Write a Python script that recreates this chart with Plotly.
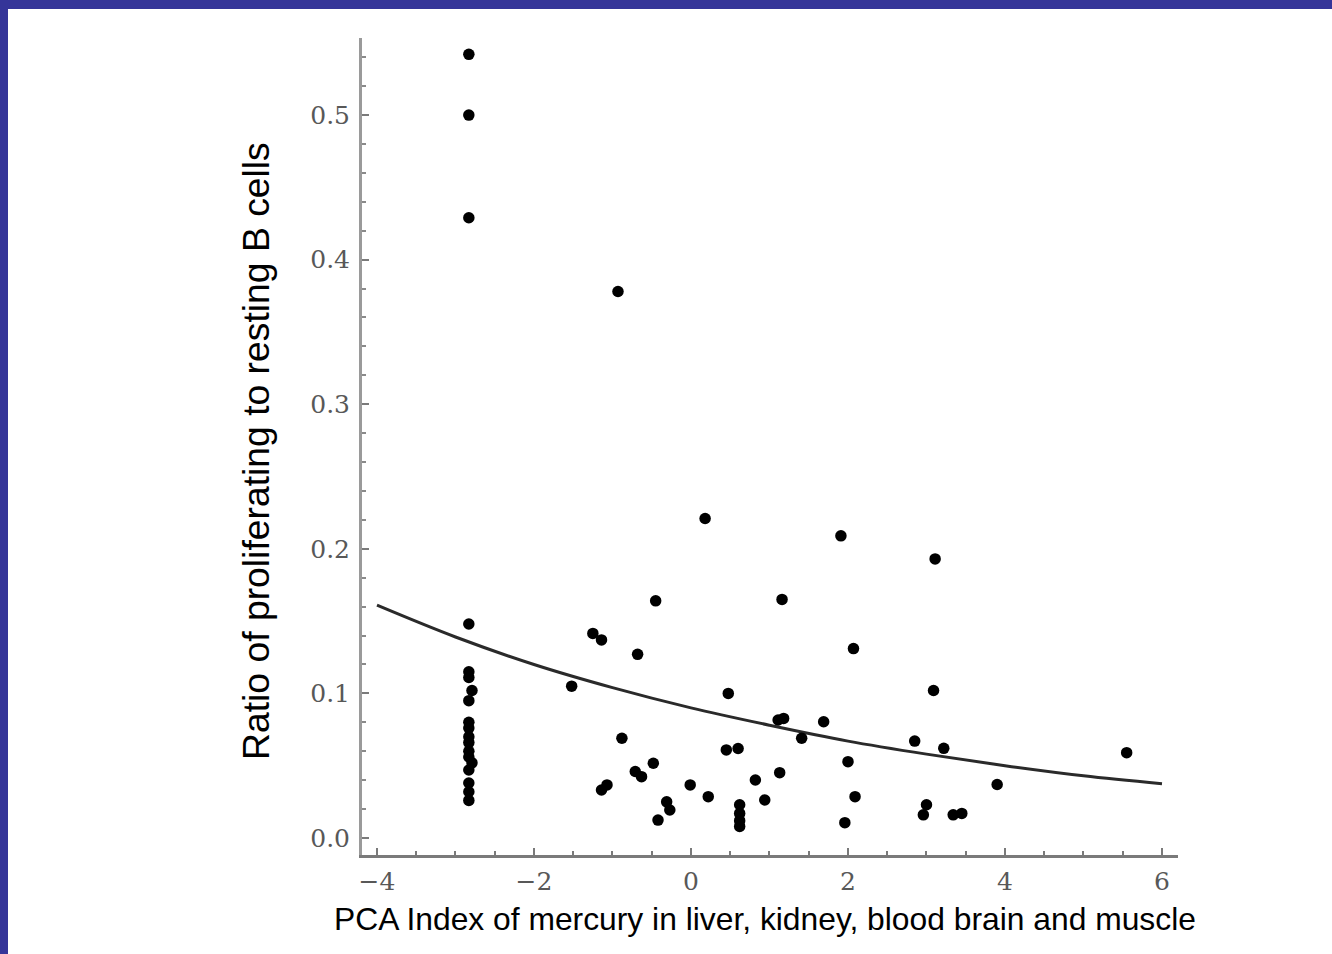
import plotly.graph_objects as go

# Scatter data: PCA mercury index vs. proliferating/resting B-cell ratio
pca_index = [
    -2.83, -2.83, -2.83, -2.83, -2.83, -2.83, -2.79, -2.83, -2.83, -2.83,
    -2.83, -2.83, -2.83, -2.83, -2.79, -2.83, -2.83, -2.83, -2.83,
    -1.25, -1.14, -0.68, -1.52, -0.88, -0.48, -0.71, -0.63, -1.07, -1.14,
    -0.01, -0.31, -0.27, -0.42,
    0.475, 1.11, 1.18, 1.69, 1.41, 0.45, 0.60, 2.00, 1.13, 0.82,
    0.22, 0.94, 2.09, 0.62, 0.62, 0.62, 0.62, 1.96,
    1.91, 3.11, 2.07, 3.09, 2.85, 3.22, 5.55, 3.90, 3.00, 2.96, 3.34, 3.45,
    -0.93, 0.18, -0.45, 1.16,
]
b_cell_ratio = [
    0.542, 0.500, 0.429, 0.148, 0.115, 0.111, 0.102, 0.095, 0.080, 0.076,
    0.070, 0.066, 0.060, 0.056, 0.052, 0.047, 0.038, 0.032, 0.026,
    0.1415, 0.137, 0.127, 0.105, 0.069, 0.0517, 0.046, 0.0424, 0.0367, 0.0332,
    0.0367, 0.025, 0.0194, 0.0124,
    0.100, 0.0816, 0.0827, 0.0804, 0.069, 0.0609, 0.0619, 0.0528, 0.0452, 0.0401,
    0.0286, 0.0263, 0.0286, 0.023, 0.017, 0.012, 0.008, 0.0106,
    0.209, 0.193, 0.131, 0.102, 0.067, 0.062, 0.059, 0.037, 0.023, 0.016, 0.016, 0.017,
    0.378, 0.221, 0.164, 0.165,
]

# Fitted trend line
fit_x = [-4, -3, -2, -1, 0, 1, 2, 3, 4, 5, 6]
fit_y = [0.161, 0.139, 0.120, 0.104, 0.090, 0.078, 0.067, 0.058, 0.050, 0.043, 0.0375]

x_title = "PCA Index of mercury in liver, kidney, blood brain and muscle"
y_title = "Ratio of proliferating to resting B cells"

W, H = 1332, 954
L, R, T, B = 362, 154, 38, 99
pw, ph = W - L - R, H - T - B


def px_x(p):
    return (p - L) / pw


def px_y(p):
    return (H - B - p) / ph


fig = go.Figure()
fig.add_trace(go.Scatter(
    x=fit_x, y=fit_y, mode="lines", line=dict(color="#2a2a2a", width=3, shape="spline"),
    hoverinfo="skip", showlegend=False,
))
fig.add_trace(go.Scatter(
    x=pca_index, y=b_cell_ratio, mode="markers",
    marker=dict(color="black", size=11.5, line=dict(width=0)), showlegend=False,
))

tick_font = dict(family="DejaVu Serif", size=25, color="#585858")

fig.update_xaxes(
    range=[-4.191, 6.204], showgrid=False, zeroline=False,
    showline=True, linecolor="#7a7a7a", linewidth=3,
    tickmode="linear", tick0=0, dtick=2,
    ticks="inside", ticklen=7, tickwidth=2, tickcolor="#7a7a7a",
    minor=dict(dtick=0.5, ticks="inside", ticklen=4, tickwidth=2, tickcolor="#7a7a7a"),
    tickfont=tick_font, ticklabelstandoff=2,
)
fig.update_yaxes(
    range=[-0.01176, 0.5533], showgrid=False, zeroline=False,
    showline=True, linecolor="#9a9a9a", linewidth=3,
    tickmode="linear", tick0=0, dtick=0.1, tickformat=".1f",
    ticks="inside", ticklen=7, tickwidth=2, tickcolor="#7a7a7a",
    minor=dict(dtick=0.02, ticks="inside", ticklen=4, tickwidth=2, tickcolor="#8a8a8a"),
    tickfont=tick_font, ticklabelstandoff=4,
)

fig.add_annotation(
    text=x_title, xref="paper", yref="paper", x=px_x(765), y=px_y(919),
    xanchor="center", yanchor="middle", showarrow=False,
    font=dict(family="Liberation Sans, Arial", size=31.8, color="black"),
)
fig.add_annotation(
    text=y_title, xref="paper", yref="paper", x=px_x(256), y=px_y(451),
    xanchor="center", yanchor="middle", showarrow=False, textangle=-90,
    font=dict(family="Liberation Sans, Arial", size=37.3, color="black"),
)

# Blue frame along the top and left edges
border = "#353599"
fig.add_shape(type="rect", xref="paper", yref="paper", layer="above",
              x0=px_x(0), x1=px_x(W), y0=px_y(9), y1=px_y(0),
              fillcolor=border, line=dict(width=0))
fig.add_shape(type="rect", xref="paper", yref="paper", layer="above",
              x0=px_x(0), x1=px_x(8), y0=px_y(H), y1=px_y(0),
              fillcolor=border, line=dict(width=0))

fig.update_layout(
    width=W, height=H, margin=dict(l=L, r=R, t=T, b=B, pad=0),
    paper_bgcolor="white", plot_bgcolor="white",
)

fig.write_html("out.html")
